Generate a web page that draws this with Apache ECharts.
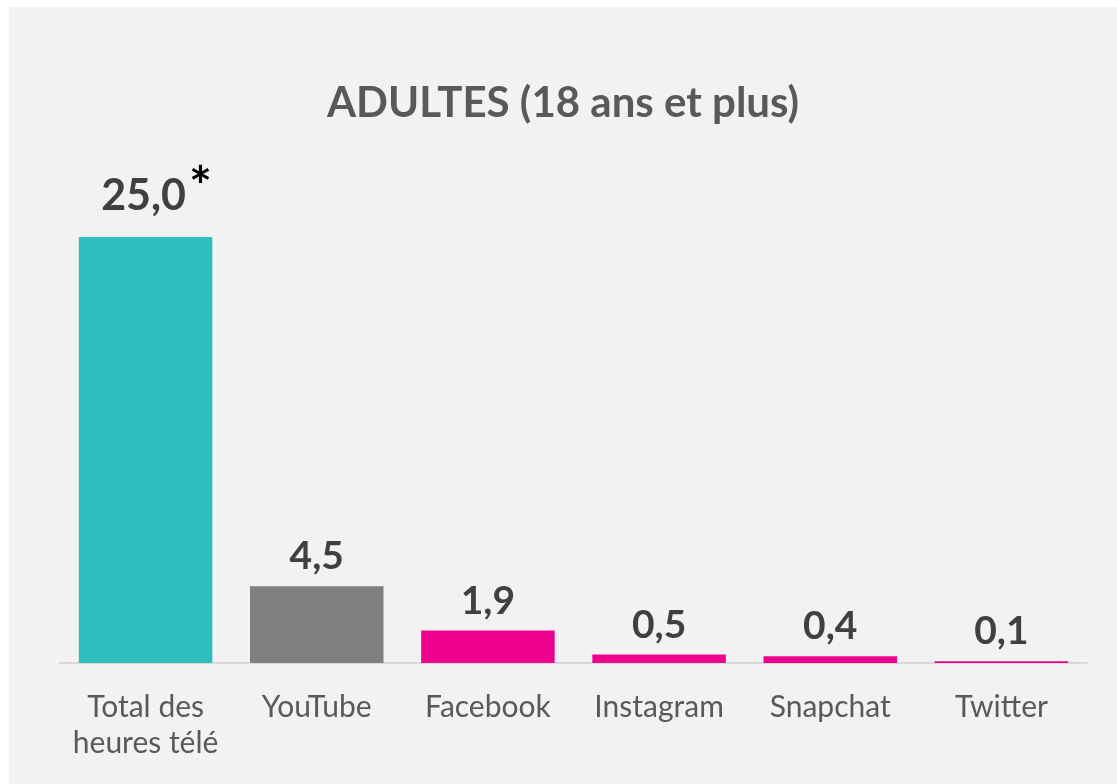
<!DOCTYPE html>
<html>
<head>
<meta charset="utf-8">
<script src="https://cdn.jsdelivr.net/npm/echarts@6/dist/echarts.min.js"></script>
<style>
html, body { margin: 0; padding: 0; background: #ffffff; }
#main { position: absolute; left: 9px; top: 7px; width: 1108px; height: 777px; background: #f2f2f2; }
</style>
</head>
<body>
<div id="main"></div>
<script>
// données
var categories = ['Total des\nheures télé', 'YouTube', 'Facebook', 'Instagram', 'Snapchat', 'Twitter'];
var heures = [25.0, 4.5, 1.9, 0.5, 0.4, 0.1];
var couleurs = ['#2fbfbf', '#7f7f7f', '#ec008c', '#ec008c', '#ec008c', '#ec008c'];
var titre = 'ADULTES (18 ans et plus)';

var police = 'Lato, "Open Sans", sans-serif';

var myChart = echarts.init(document.getElementById('main'));

var data = heures.map(function (v, i) {
    var item = { value: v, itemStyle: { color: couleurs[i] } };
    if (i === 0) {
        item.label = {
            distance: 26,
            formatter: function (p) {
                return '{big|' + p.value.toFixed(1).replace('.', ',') + '}{star|*}';
            }
        };
    }
    return item;
});

var option = {
    animation: false,
    title: {
        text: titre,
        left: 'center',
        top: 70,
        textStyle: {
            fontFamily: police,
            fontSize: 42,
            fontWeight: 'bold',
            color: '#595959'
        }
    },
    grid: {
        left: 51,
        right: 30,
        top: 230,
        bottom: 121
    },
    xAxis: {
        type: 'category',
        data: categories,
        axisTick: { show: false },
        axisLine: { lineStyle: { color: '#d9d9d9', width: 2 } },
        axisLabel: {
            interval: 0,
            fontFamily: police,
            fontSize: 30,
            color: '#595959',
            lineHeight: 36,
            margin: 26
        }
    },
    yAxis: {
        type: 'value',
        min: 0,
        max: 25,
        show: false,
        splitLine: { show: false }
    },
    series: [
        {
            type: 'bar',
            barCategoryGap: '22%',
            data: data,
            label: {
                show: true,
                position: 'top',
                distance: 10,
                fontFamily: police,
                fontSize: 39,
                fontWeight: 'bold',
                color: '#404040',
                formatter: function (p) {
                    return p.value.toFixed(1).replace('.', ',');
                },
                rich: {
                    big: {
                        fontFamily: police,
                        fontSize: 43,
                        fontWeight: 'bold',
                        color: '#404040',
                        lineHeight: 46,
                        padding: [16, 0, 0, 22]
                    },
                    star: {
                        fontFamily: police,
                        fontSize: 54,
                        fontWeight: 'bold',
                        color: '#000000',
                        lineHeight: 46,
                        padding: [0, 0, 0, 3]
                    }
                }
            }
        }
    ]
};

myChart.setOption(option);
</script>
</body>
</html>
